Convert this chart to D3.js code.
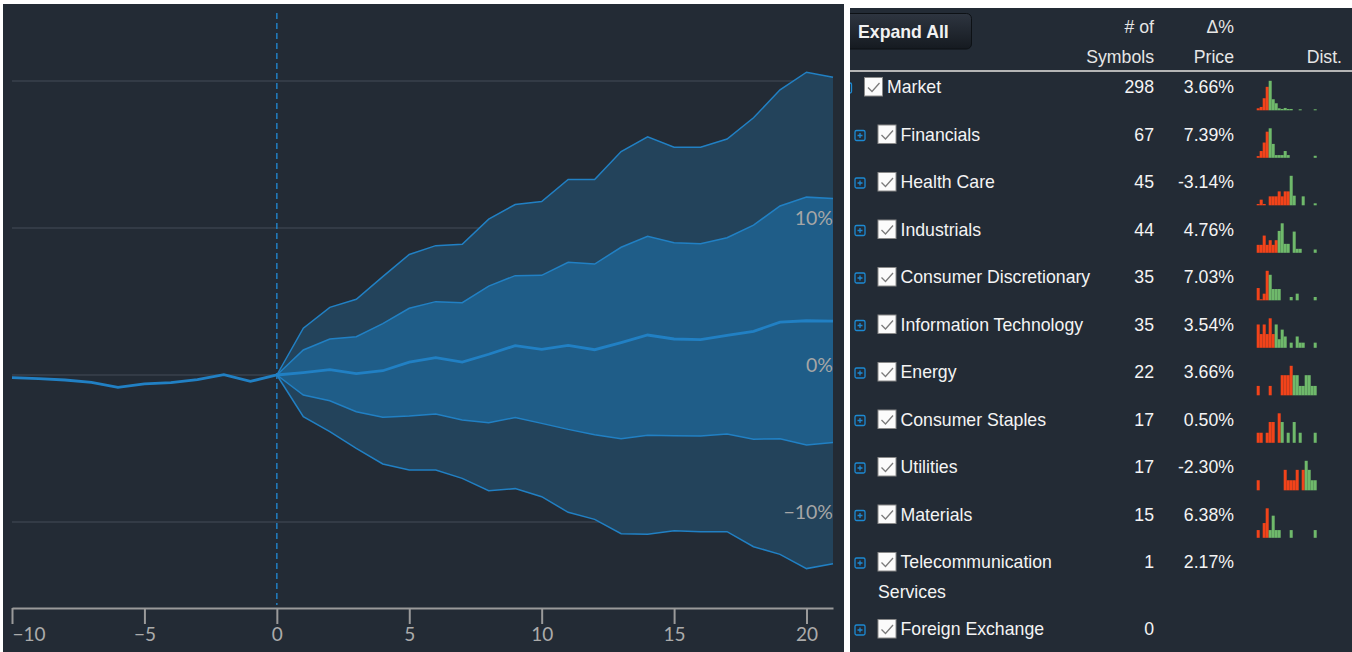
<!DOCTYPE html>
<html>
<head>
<meta charset="utf-8">
<script src="https://cdn.jsdelivr.net/npm/d3@7"></script>
<style>
  body { margin: 0; background: #fff; }
  svg { display: block; }
</style>
</head>
<body>
<div id="canvas"></div>
<script>
// ---- data ----
var preDays = [-10, -9, -8, -7, -6, -5, -4, -3, -2, -1, 0]
var preMedian = [-0.18, -0.25, -0.34, -0.5, -0.84, -0.61, -0.52, -0.32, 0.02, -0.43, 0]

var postDays = [0, 1, 2, 3, 4, 5, 6, 7, 8, 9, 10, 11, 12, 13, 14, 15, 16, 17, 18, 19, 20, 21]
var postMedian = [0, 0.16, 0.36, 0.09, 0.29, 0.88, 1.18, 0.88, 1.41, 2.0, 1.75, 2.02, 1.72, 2.2, 2.72, 2.45, 2.4, 2.7, 2.97, 3.6, 3.69, 3.66]
var innerHigh = [0, 1.7, 2.45, 2.6, 3.5, 4.54, 4.99, 4.92, 6.05, 6.76, 6.78, 7.67, 7.55, 8.69, 9.44, 9.0, 8.93, 9.34, 10.2, 11.5, 12.1, 12.0]
var innerLow = [0, -1.36, -1.75, -2.5, -2.88, -2.79, -2.65, -3.06, -3.24, -2.9, -3.29, -3.7, -4.06, -4.33, -4.1, -4.13, -4.15, -4.01, -4.37, -4.33, -4.76, -4.6]
var outerHigh = [0, 3.18, 4.6, 5.15, 6.69, 8.2, 8.8, 8.89, 10.6, 11.6, 11.8, 13.3, 13.3, 15.2, 16.2, 15.5, 15.5, 16.05, 17.5, 19.4, 20.6, 20.25]
var outerLow = [0, -2.83, -3.85, -4.99, -6.05, -6.46, -6.46, -7.03, -7.87, -7.73, -8.28, -9.34, -9.82, -10.8, -10.84, -10.6, -10.66, -10.66, -11.68, -12.2, -13.17, -12.84]

var xTicks = [-10, -5, 0, 5, 10, 15, 20]
var gridValues = [-10, 0, 10, 20]
var yLabelValues = [-10, 0, 10]

var sectors = ['Market', 'Financials', 'Health Care', 'Industrials', 'Consumer Discretionary',
  'Information Technology', 'Energy', 'Consumer Staples', 'Utilities', 'Materials',
  'Telecommunication Services', 'Foreign Exchange']
var sectorLevel = [0, 1, 1, 1, 1, 1, 1, 1, 1, 1, 1, 1]
var symbolCounts = [298, 67, 45, 44, 35, 35, 22, 17, 17, 15, 1, 0]
var priceChanges = ['3.66%', '7.39%', '-3.14%', '4.76%', '7.03%', '3.54%', '3.66%', '0.50%', '-2.30%', '6.38%', '2.17%', '']

// histogram bin counts per sector, and first "up" bin
var distBins = [
  [6, 10, 36, 70, 88, 33, 21, 6, 4, 7, 4, 4, 0, 0, 3, 0, 0, 0, 0, 3],
  [5, 20, 45, 77, 87, 41, 8, 8, 8, 20, 8, 0, 0, 0, 0, 0, 0, 0, 0, 6],
  [4, 17, 4, 0, 27, 27, 27, 42, 27, 42, 42, 89, 29, 0, 0, 27, 0, 0, 0, 6],
  [24, 24, 52, 24, 38, 24, 38, 66, 89, 27, 27, 0, 64, 12, 12, 0, 0, 0, 0, 10],
  [37, 3, 20, 89, 77, 34, 34, 34, 0, 0, 0, 10, 0, 20, 0, 0, 0, 0, 0, 10],
  [68, 40, 68, 40, 86, 40, 68, 25, 53, 33, 0, 15, 0, 33, 15, 15, 0, 0, 0, 15],
  [28, 0, 0, 0, 28, 0, 0, 0, 60, 60, 60, 88, 60, 60, 28, 28, 60, 60, 28, 28],
  [30, 30, 0, 30, 62, 62, 0, 88, 62, 0, 30, 0, 62, 0, 30, 0, 0, 0, 0, 30],
  [30, 0, 0, 0, 0, 0, 0, 0, 0, 61, 30, 30, 30, 61, 0, 61, 88, 61, 30, 30],
  [23, 0, 44, 88, 23, 66, 23, 23, 0, 0, 0, 23, 0, 0, 0, 0, 0, 0, 0, 23],
  [],
  []
]
var distSplit = [4, 4, 11, 7, 4, 6, 12, 8, 16, 4, 0, 0]

// ---- layout ----
var WIDTH = 1352
var HEIGHT = 652
var BG = '#232b35'
var BLUE = '#2180c4'
var FONT = '"Liberation Sans", Arial, sans-serif'
var AXISFONT = 'Lato, "Open Sans", sans-serif'

var svg = d3.select('#canvas').append('svg')
  .attr('width', WIDTH)
  .attr('height', HEIGHT)

svg.append('rect').attr('x', 3).attr('y', 4).attr('width', 841).attr('height', 648).attr('fill', BG)
svg.append('rect').attr('x', 850).attr('y', 8).attr('width', 502).attr('height', 644).attr('fill', BG)

// ---- left: chart ----
var x = d3.scaleLinear().domain([-10, 21]).range([12, 833])
var y = d3.scaleLinear().domain([-10, 20]).range([522, 81])

var chart = svg.append('g')

chart.append('g').selectAll('line')
  .data(gridValues)
  .enter().append('line')
  .attr('x1', x(-10)).attr('x2', x(21))
  .attr('y1', function (d) { return y(d) }).attr('y2', function (d) { return y(d) })
  .attr('stroke', '#3a424c')
  .attr('stroke-width', 1.5)

chart.append('line')
  .attr('x1', x(0)).attr('x2', x(0))
  .attr('y1', 13).attr('y2', 605)
  .attr('stroke', BLUE)
  .attr('stroke-width', 1.5)
  .attr('stroke-dasharray', '6,4')

var outerArea = d3.area()
  .x(function (d, i) { return x(postDays[i]) })
  .y0(function (d, i) { return y(outerLow[i]) })
  .y1(function (d, i) { return y(outerHigh[i]) })
var innerArea = d3.area()
  .x(function (d, i) { return x(postDays[i]) })
  .y0(function (d, i) { return y(innerLow[i]) })
  .y1(function (d, i) { return y(innerHigh[i]) })

chart.append('path').datum(postDays).attr('d', outerArea).attr('fill', '#23435b')
chart.append('path').datum(postDays).attr('d', innerArea).attr('fill', '#1f5d88')

var line = d3.line()
  .x(function (d) { return x(d[0]) })
  .y(function (d) { return y(d[1]) })

var bandLines = [outerHigh, innerHigh, innerLow, outerLow]
bandLines.forEach(function (vals) {
  chart.append('path')
    .datum(d3.zip(postDays, vals))
    .attr('d', line)
    .attr('fill', 'none')
    .attr('stroke', BLUE)
    .attr('stroke-width', 1.5)
})

chart.append('path')
  .datum(d3.zip(preDays.concat(postDays.slice(1)), preMedian.concat(postMedian.slice(1))))
  .attr('d', line)
  .attr('fill', 'none')
  .attr('stroke', BLUE)
  .attr('stroke-width', 2.8)

chart.append('g').selectAll('text')
  .data(yLabelValues)
  .enter().append('text')
  .attr('x', 833)
  .attr('y', function (d) { return y(d) - 3.5 })
  .attr('text-anchor', 'end')
  .attr('fill', '#a6a6a6')
  .style('font-family', AXISFONT)
  .style('font-size', '19.5px')
  .text(function (d) { return d3.format('')(d) + '%' })

var xAxis = chart.append('g')
  .attr('transform', 'translate(0,608)')
  .call(d3.axisBottom(x).tickValues(xTicks).tickSize(16).tickSizeOuter(0).tickPadding(4))
xAxis.select('.domain').attr('stroke', '#9a9a9a').attr('stroke-width', 2)
xAxis.selectAll('.tick line').attr('stroke', '#9a9a9a').attr('stroke-width', 2)
xAxis.selectAll('.tick text')
  .attr('fill', '#ababab')
  .style('font-family', AXISFONT)
  .style('font-size', '19px')
xAxis.selectAll('.tick text').filter(function (d) { return d === -10 }).attr('text-anchor', 'start')

// ---- right: sector table ----
svg.append('clipPath').attr('id', 'panelclip')
  .append('rect').attr('x', 850).attr('y', 8).attr('width', 502).attr('height', 644)
var table = svg.append('g').attr('clip-path', 'url(#panelclip)')

var grad = svg.append('defs').append('linearGradient')
  .attr('id', 'btngrad').attr('x1', 0).attr('y1', 0).attr('x2', 0).attr('y2', 1)
grad.append('stop').attr('offset', '0%').attr('stop-color', '#2e3540')
grad.append('stop').attr('offset', '100%').attr('stop-color', '#151a20')

table.append('rect')
  .attr('x', 844).attr('y', 13.5).attr('width', 127.5).attr('height', 35.5).attr('rx', 5)
  .attr('fill', 'url(#btngrad)')
  .attr('stroke', '#0d1115')
table.append('text')
  .attr('x', 858).attr('y', 37.5)
  .attr('fill', '#f2f2f2')
  .style('font-family', FONT).style('font-size', '17.7px').style('font-weight', 'bold')
  .text('Expand All')

var headers = [
  {x: 1154, lines: ['# of', 'Symbols']},
  {x: 1234, lines: ['Δ%', 'Price']},
  {x: 1342, lines: ['', 'Dist.']}
]
headers.forEach(function (h) {
  h.lines.forEach(function (t, i) {
    table.append('text')
      .attr('x', h.x).attr('y', 32.5 + i * 30)
      .attr('text-anchor', 'end')
      .attr('fill', '#e6e6e6')
      .style('font-family', FONT).style('font-size', '17.7px')
      .text(t)
  })
})

table.append('line')
  .attr('x1', 850).attr('x2', 1352).attr('y1', 71).attr('y2', 71)
  .attr('stroke', '#b5b5b5').attr('stroke-width', 2)

var bins = d3.scaleBand().domain(d3.range(20)).range([1256.7, 1316.7]).padding(0)

var rowY = 87
sectors.forEach(function (name, r) {
  var indent = sectorLevel[r] * 13.5
  var row = table.append('g')

  // expander icon
  var ix = 841.5 + indent
  var iy = rowY - 4
  row.append('rect')
    .attr('x', ix).attr('y', iy).attr('width', 10).attr('height', 10).attr('rx', 1.5)
    .attr('fill', 'none').attr('stroke', '#1d8ad3').attr('stroke-width', 1.3)
  row.append('path')
    .attr('d', 'M' + (ix + 2.5) + ',' + (iy + 5) + 'H' + (ix + 7.5) + 'M' + (ix + 5) + ',' + (iy + 2.5) + 'V' + (iy + 7.5))
    .attr('stroke', '#1d8ad3').attr('stroke-width', 1.3)

  // checkbox
  var cx = 864.5 + indent
  var cy = rowY - 9.5
  row.append('rect')
    .attr('x', cx).attr('y', cy).attr('width', 18).attr('height', 18.5)
    .attr('fill', '#fbfbfb').attr('stroke', '#8a8a8a').attr('stroke-width', 1)
  row.append('path')
    .attr('d', 'M' + (cx + 3.5) + ',' + (cy + 10) + 'L' + (cx + 7.5) + ',' + (cy + 14) + 'L' + (cx + 15) + ',' + (cy + 5.5))
    .attr('fill', 'none').attr('stroke', '#7a7a7a').attr('stroke-width', 1.3)

  // label, wrapped when too long
  var label = row.append('text')
    .attr('x', 887 + indent).attr('y', rowY + 6.3)
    .attr('fill', '#f4f4f4')
    .style('font-family', FONT).style('font-size', '17.7px')
    .text(name)
  var lines = 1
  if (label.node().getComputedTextLength() > 200) {
    var words = name.split(' ')
    label.text(words[0])
    row.append('text')
      .attr('x', 864.5 + indent).attr('y', rowY + 6.3 + 30)
      .attr('fill', '#f4f4f4')
      .style('font-family', FONT).style('font-size', '17.7px')
      .text(words.slice(1).join(' '))
    lines = 2
  }

  row.append('text')
    .attr('x', 1154).attr('y', rowY + 6.3)
    .attr('text-anchor', 'end').attr('fill', '#f4f4f4')
    .style('font-family', FONT).style('font-size', '17.7px')
    .text(symbolCounts[r])
  row.append('text')
    .attr('x', 1234).attr('y', rowY + 6.3)
    .attr('text-anchor', 'end').attr('fill', '#f4f4f4')
    .style('font-family', FONT).style('font-size', '17.7px')
    .text(priceChanges[r])

  // distribution histogram
  var counts = distBins[r]
  if (counts.length) {
    var h = d3.scaleLinear().domain([0, d3.max(counts)]).range([0, 29.5])
    var base = rowY + 23.3
    row.append('g').selectAll('rect')
      .data(counts)
      .enter().append('rect')
      .attr('x', function (d, i) { return bins(i) })
      .attr('width', bins.bandwidth())
      .attr('y', function (d) { return base - h(d) })
      .attr('height', function (d) { return h(d) })
      .attr('fill', function (d, i) { return i < distSplit[r] ? '#f2431a' : '#6fb96b' })
  }

  rowY += 47.5 + (lines - 1) * 19.5
})
</script>
</body>
</html>
